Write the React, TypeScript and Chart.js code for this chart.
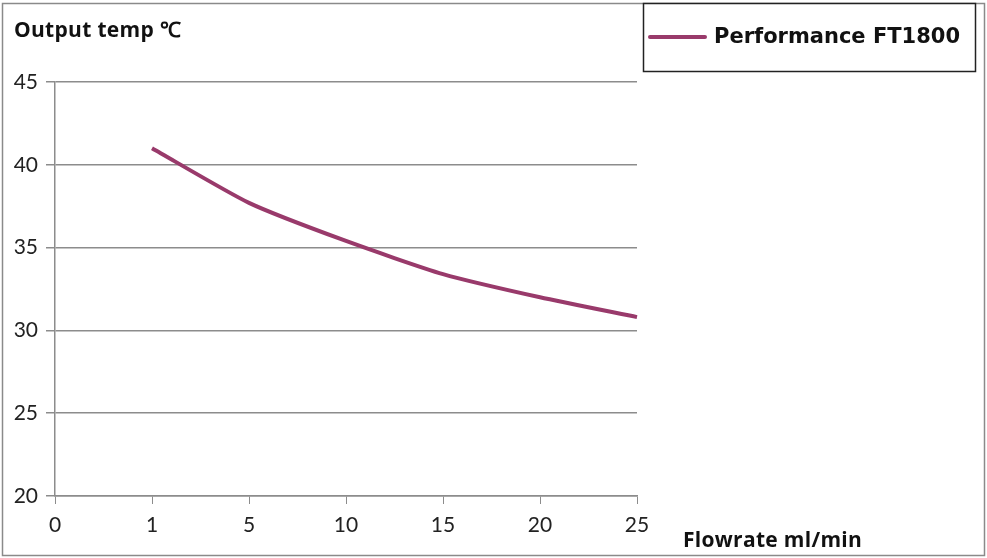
import React, { useEffect, useRef } from "react";
import { Chart, registerables } from "chart.js";

Chart.register(...registerables);

const categories: string[] = ["0", "1", "5", "10", "15", "20", "25"];
const seriesName = "Performance FT1800";
const seriesValues: (number | null)[] = [null, 41.0, 37.7, 35.4, 33.4, 32.0, 30.8];
const yTicks: number[] = [20, 25, 30, 35, 40, 45];
const yTitle = "Output temp ℃";
const xTitle = "Flowrate ml/min";

const LINE_COLOR = "#993a6b";
const GRID_COLOR = "#8c8c8c";
const FONT = "Lato, 'Open Sans', sans-serif";
const TITLE_FONT = "'Open Sans', Lato, sans-serif";
const LEGEND_FONT = "'DejaVu Sans', 'Open Sans', sans-serif";

const decorPlugin = {
  id: "decor",
  afterDraw(chart: any) {
    const ctx = chart.ctx as CanvasRenderingContext2D;
    ctx.save();
    // outer frame
    ctx.strokeStyle = "#8a8a8a";
    ctx.lineWidth = 1.5;
    ctx.strokeRect(2.5, 3.5, 982, 552);
    // y title
    ctx.fillStyle = "#111";
    ctx.font = `bold 21px ${TITLE_FONT}`;
    ctx.textBaseline = "middle";
    ctx.textAlign = "left";
    (ctx as any).letterSpacing = "0.3px";
    ctx.fillText(yTitle, 14, 31);
    // x title
    ctx.font = `bold 21px ${TITLE_FONT}`;
    ctx.fillText(xTitle, 683, 541);
    (ctx as any).letterSpacing = "0px";
    // legend
    const ds = chart.data.datasets[0];
    ctx.fillStyle = "#fff";
    ctx.fillRect(643, 4, 333, 68);
    ctx.strokeStyle = "#222";
    ctx.lineWidth = 1.5;
    ctx.strokeRect(643.5, 3.5, 332, 68);
    ctx.strokeStyle = ds.borderColor;
    ctx.lineWidth = 4;
    ctx.lineCap = "round";
    ctx.beginPath();
    ctx.moveTo(650, 37);
    ctx.lineTo(705, 37);
    ctx.stroke();
    ctx.fillStyle = "#111";
    ctx.font = `bold 21px ${LEGEND_FONT}`;
    ctx.fillText(ds.label, 714, 38);
    ctx.restore();
  },
};

export default function App() {
  const ref = useRef<HTMLCanvasElement | null>(null);
  useEffect(() => {
    if (!ref.current) return;
    const chart = new Chart(ref.current, {
      type: "line",
      data: {
        labels: categories,
        datasets: [
          {
            label: seriesName,
            data: seriesValues,
            borderColor: LINE_COLOR,
            backgroundColor: LINE_COLOR,
            borderWidth: 4,
            pointRadius: 0,
            tension: 0.2,
            fill: false,
          },
        ],
      },
      options: {
        animation: false,
        responsive: true,
        maintainAspectRatio: false,
        layout: { padding: { top: 82, right: 350, bottom: 0, left: 0 } },
        plugins: {
          legend: { display: false },
          tooltip: { enabled: false },
        },
        scales: {
          x: {
            type: "category",
            offset: false,
            grid: {
              display: true,
              drawOnChartArea: false,
              drawTicks: true,
              tickLength: 8,
              color: GRID_COLOR,
            },
            border: { display: true, color: GRID_COLOR, width: 1.5 },
            ticks: {
              color: "#222",
              font: { family: FONT, size: 21 },
              padding: 9,
              maxRotation: 0,
              autoSkip: false,
            },
            afterFit(scale: any) {
              scale.height = 62;
            },
          },
          y: {
            min: 20,
            max: 45,
            afterBuildTicks(scale: any) {
              scale.ticks = yTicks.map((v) => ({ value: v }));
            },
            grid: {
              color: GRID_COLOR,
              lineWidth: 1.5,
              tickLength: 9,
              drawTicks: true,
            },
            border: { display: true, color: GRID_COLOR, width: 1.5 },
            ticks: {
              color: "#222",
              font: { family: FONT, size: 21 },
              padding: 8,
            },
            afterFit(scale: any) {
              scale.width = 55;
            },
          },
        },
      },
      plugins: [decorPlugin],
    });
    return () => chart.destroy();
  }, []);
  return (
    <div style={{ position: "fixed", left: 0, top: 0, width: 987, height: 558, background: "#fff" }}>
      <canvas ref={ref} />
    </div>
  );
}
